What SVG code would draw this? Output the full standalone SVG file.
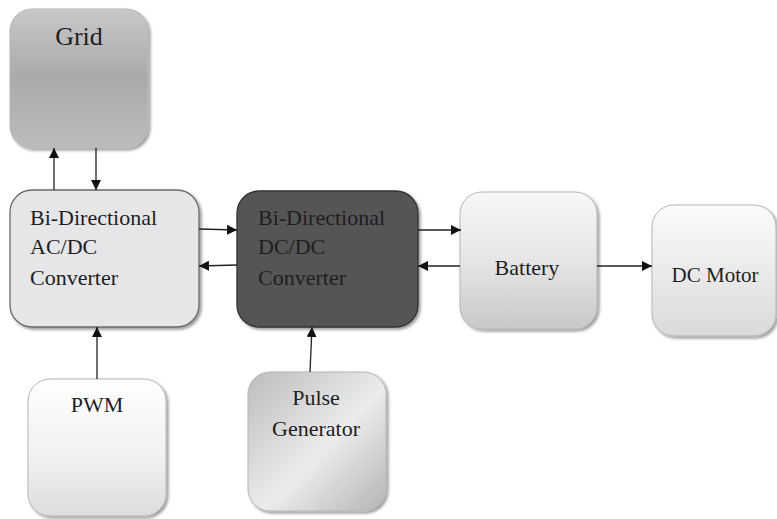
<svg xmlns="http://www.w3.org/2000/svg" width="777" height="519" viewBox="0 0 777 519">
<defs>
<linearGradient id="gGrid" x1="0" y1="0" x2="0" y2="1">
<stop offset="0" stop-color="#c8c8ca"/>
<stop offset="0.5" stop-color="#aaaaac"/>
<stop offset="1" stop-color="#bcbcbe"/>
</linearGradient>
<linearGradient id="gBat" x1="0" y1="0" x2="0" y2="1">
<stop offset="0" stop-color="#f7f7f7"/>
<stop offset="0.5" stop-color="#e6e6e6"/>
<stop offset="1" stop-color="#c8c8ca"/>
</linearGradient>
<linearGradient id="gMot" x1="0" y1="0" x2="0" y2="1">
<stop offset="0" stop-color="#fbfbfb"/>
<stop offset="1" stop-color="#dadadc"/>
</linearGradient>
<linearGradient id="gPwm" x1="0" y1="0" x2="0" y2="1">
<stop offset="0" stop-color="#ffffff"/>
<stop offset="0.6" stop-color="#f0f0f0"/>
<stop offset="1" stop-color="#dcdcde"/>
</linearGradient>
<linearGradient id="gPulse" x1="0" y1="0" x2="1" y2="1">
<stop offset="0" stop-color="#bcbcbe"/>
<stop offset="0.55" stop-color="#ececec"/>
<stop offset="1" stop-color="#b4b4b6"/>
</linearGradient>
<filter id="sh" x="-10%" y="-10%" width="125%" height="125%">
<feGaussianBlur in="SourceAlpha" stdDeviation="1.5"/>
<feOffset dx="1.5" dy="2" result="b"/>
<feComponentTransfer><feFuncA type="linear" slope="0.4"/></feComponentTransfer>
<feMerge><feMergeNode/><feMergeNode in="SourceGraphic"/></feMerge>
</filter>
<marker id="ah" viewBox="0 0 10 10" refX="10" refY="5" markerWidth="10" markerHeight="10" markerUnits="userSpaceOnUse" orient="auto">
<path d="M0,0 L10,5 L0,10 z" fill="#111"/>
</marker>
</defs>
<style>
.t{font-family:'Liberation Serif';font-size:22px;fill:#1e1e1e}
.c{text-anchor:middle}
.box{stroke:#b5b5b5;stroke-width:1}
.con line{stroke:#222;stroke-width:1.3;marker-end:url(#ah)}
</style>
<rect width="777" height="519" fill="#ffffff"/>
<g id="grid">
<rect class="box" x="10" y="9" width="138" height="139" rx="22" fill="url(#gGrid)" filter="url(#sh)"/>
<text class="t c" x="79" y="45" style="font-size:26px">Grid</text>
</g>
<g id="acdc">
<rect x="10" y="190" width="189" height="137" rx="22" fill="#e6e6e8" stroke="#6a6a6a" stroke-width="1.3" filter="url(#sh)"/>
<text class="t" x="30" y="225">Bi-Directional</text>
<text class="t" x="30" y="254">AC/DC</text>
<text class="t" x="30" y="285">Converter</text>
</g>
<g id="dcdc">
<rect x="237" y="191" width="181" height="136" rx="22" fill="#555557" stroke="#333" stroke-width="1.3" filter="url(#sh)"/>
<text class="t" x="258" y="225">Bi-Directional</text>
<text class="t" x="258" y="254">DC/DC</text>
<text class="t" x="258" y="285">Converter</text>
</g>
<g id="battery">
<rect class="box" x="460" y="192" width="137" height="137" rx="22" fill="url(#gBat)" filter="url(#sh)"/>
<text class="t c" x="527" y="275">Battery</text>
</g>
<g id="dcmotor">
<rect class="box" x="652" y="205" width="124" height="131" rx="22" fill="url(#gMot)" filter="url(#sh)"/>
<text class="t c" x="715" y="282" style="font-size:21px">DC Motor</text>
</g>
<g id="pwm">
<rect class="box" x="28" y="379" width="138" height="137" rx="22" fill="url(#gPwm)" filter="url(#sh)"/>
<text class="t c" x="97" y="412">PWM</text>
</g>
<g id="pulse">
<rect class="box" x="248" y="372" width="138" height="139" rx="22" fill="url(#gPulse)" filter="url(#sh)"/>
<text class="t c" x="316" y="405">Pulse</text>
<text class="t c" x="316" y="436">Generator</text>
</g>
<g id="connectors" class="con">
<line x1="54" y1="190" x2="54" y2="148"/>
<line x1="96" y1="148" x2="96" y2="190"/>
<line x1="199" y1="229" x2="237" y2="230"/>
<line x1="237" y1="265" x2="199" y2="266"/>
<line x1="418" y1="230" x2="461" y2="230"/>
<line x1="460" y1="266" x2="418" y2="266"/>
<line x1="597" y1="266" x2="652" y2="266"/>
<line x1="97" y1="379" x2="97" y2="327"/>
<line x1="310" y1="372" x2="312" y2="327"/>
</g>
</svg>
